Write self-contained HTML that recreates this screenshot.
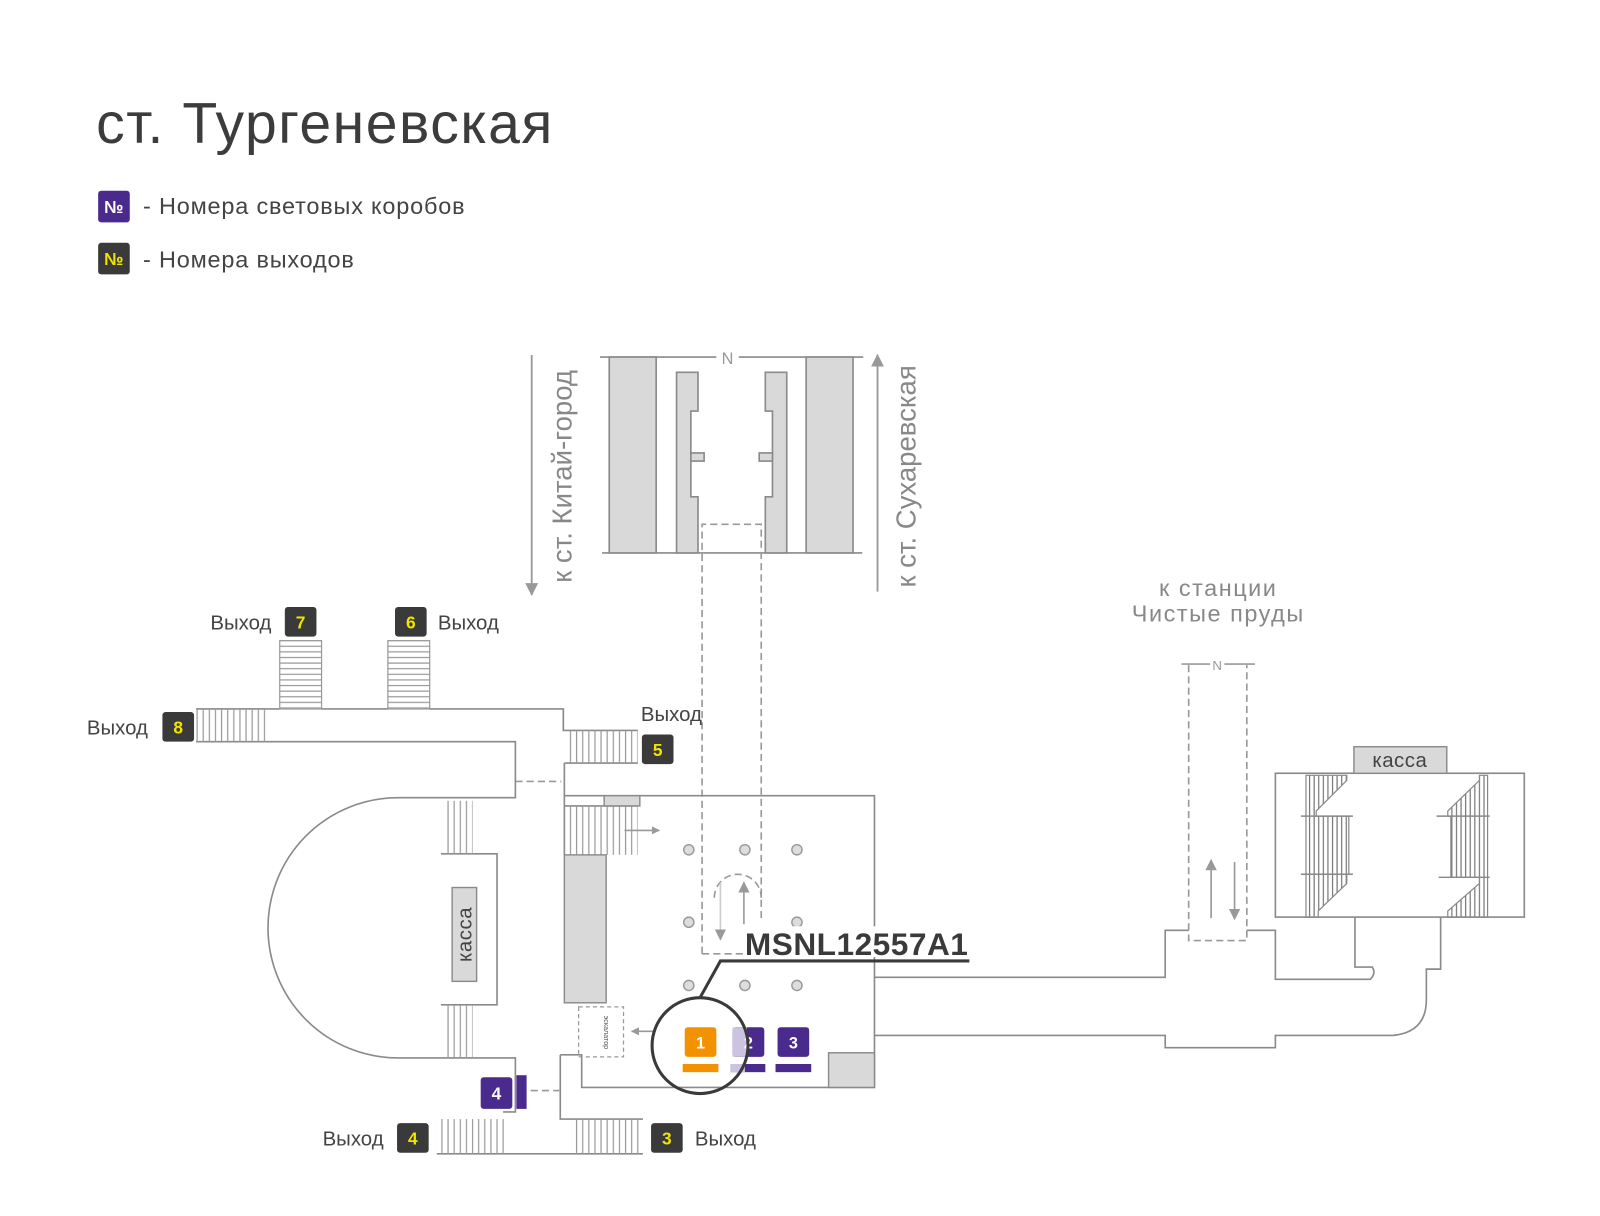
<!DOCTYPE html>
<html><head><meta charset="utf-8"><style>
html,body{margin:0;padding:0;background:#fff;}
svg{display:block;}
text{font-family:"Liberation Sans",sans-serif;}
</style></head><body>
<svg width="1600" height="1216" viewBox="0 0 1568 1192" xmlns="http://www.w3.org/2000/svg">
<defs>
<pattern id="vl" width="4.5" height="10" patternUnits="userSpaceOnUse"><line x1="1" y1="0" x2="1" y2="10" stroke="#777" stroke-width="1.2"/></pattern>
<pattern id="vl6" width="6" height="10" patternUnits="userSpaceOnUse"><line x1="1" y1="0" x2="1" y2="10" stroke="#999" stroke-width="1.2"/></pattern>
<pattern id="hl6" width="10" height="5.5" patternUnits="userSpaceOnUse"><line x1="0" y1="1" x2="10" y2="1" stroke="#999" stroke-width="1.2"/></pattern>
<marker id="ah" viewBox="0 0 10 10" refX="9" refY="5" markerWidth="7" markerHeight="7" orient="auto"><path d="M0,0 L10,5 L0,10 z" fill="#999"/></marker>
<marker id="ahs" viewBox="0 0 10 10" refX="9" refY="5" markerWidth="5" markerHeight="5" orient="auto"><path d="M0,0 L10,5 L0,10 z" fill="#999"/></marker>
</defs>

<text x="94" y="140" font-size="56" fill="#3c3c3c" letter-spacing="1.5">ст. Тургеневская</text>
<rect x="96" y="187" width="31" height="31" rx="3" fill="#4a2a8c"/>
<text x="111.5" y="209" font-size="17" font-weight="bold" fill="#fff" text-anchor="middle">№</text>
<text x="140" y="210" font-size="23" fill="#444" letter-spacing="0.8">- Номера световых коробов</text>
<rect x="96" y="238" width="31" height="31" rx="3" fill="#3a3a3a"/>
<text x="111.5" y="260" font-size="17" font-weight="bold" fill="#f2e400" text-anchor="middle">№</text>
<text x="140" y="262" font-size="23" fill="#444" letter-spacing="0.8">- Номера выходов</text>

<g fill="none" stroke="#8a8a8a" stroke-width="1.6">
<line x1="588" y1="350" x2="702" y2="350"/><line x1="724" y1="350" x2="846" y2="350"/>
<line x1="590" y1="542" x2="845" y2="542"/>
<rect x="597" y="350" width="46" height="192" fill="#d9d9d9"/>
<rect x="790" y="350" width="46" height="192" fill="#d9d9d9"/>
<path d="M663,365 H684 V403 H677 V487 H684 V542 H663 Z" fill="#d9d9d9"/>
<path d="M771,365 H750 V403 H757 V487 H750 V542 H771 Z" fill="#d9d9d9"/>
<rect x="677" y="444" width="13" height="8" fill="#d9d9d9"/>
<rect x="744" y="444" width="13" height="8" fill="#d9d9d9"/>
</g>
<text x="713" y="357" font-size="16" fill="#999" text-anchor="middle">N</text>
<g fill="none" stroke="#999" stroke-width="1.6" stroke-dasharray="7,4">
<path d="M688,935 V514 H746 V900"/>
<line x1="688" y1="935" x2="735" y2="935"/>
<path d="M700,880 A23,23 0 0 1 746,880"/>
<path d="M1165,652 V922 H1222 V652"/>
<line x1="505" y1="766" x2="550" y2="766"/>
<line x1="520" y1="1069" x2="548" y2="1069"/>
</g>
<g stroke="#999" stroke-width="1.6">
<line x1="1158" y1="651" x2="1186" y2="651"/><line x1="1200" y1="651" x2="1230" y2="651"/>
</g>
<text x="1193" y="657" font-size="13" fill="#999" text-anchor="middle">N</text>

<line x1="521" y1="348" x2="521" y2="583" stroke="#999" stroke-width="1.8" marker-end="url(#ah)"/>
<line x1="860" y1="580" x2="860" y2="348" stroke="#999" stroke-width="1.8" marker-end="url(#ah)"/>
<text transform="translate(560,467) rotate(-90)" font-size="27" fill="#888" text-anchor="middle">к ст. Китай-город</text>
<text transform="translate(897,467) rotate(-90)" font-size="27" fill="#888" text-anchor="middle">к ст. Сухаревская</text>
<text x="1194" y="584" font-size="23" fill="#888" text-anchor="middle" letter-spacing="1.5">к станции</text>
<text x="1194" y="609" font-size="23" fill="#888" text-anchor="middle" letter-spacing="1.5">Чистые пруды</text>
<line x1="1187" y1="900" x2="1187" y2="843" stroke="#999" stroke-width="1.6" marker-end="url(#ah)"/>
<line x1="1210" y1="845" x2="1210" y2="901" stroke="#999" stroke-width="1.6" marker-end="url(#ah)"/>
<line x1="706" y1="865" x2="706" y2="921" stroke="#ccc" stroke-width="1.6" marker-end="url(#ah)"/>
<line x1="729" y1="906" x2="729" y2="865" stroke="#999" stroke-width="1.6" marker-end="url(#ah)"/>
<line x1="612" y1="814" x2="646" y2="814" stroke="#999" stroke-width="1.6" marker-end="url(#ahs)"/>
<line x1="640" y1="1011" x2="619" y2="1011" stroke="#999" stroke-width="1.6" marker-end="url(#ahs)"/>

<g fill="none" stroke="#8a8a8a" stroke-width="1.6">
<path d="M192,695 H274 M315,695 H380 M421,695 H552 V716 H625"/>
<path d="M192,727 H505 V782 H390 A126,126 0 0 0 390,1037 H505 V1090 H493"/>
<path d="M553,748 H625 M553,748 V790 H625 M553,838 V790"/>
<path d="M432,837 H487 V985 H432"/>
<path d="M549,1034 H570 V1066 H857 V780 H553"/>
<path d="M549,1034 V1097 H630"/>
<path d="M428,1131 H630"/>
<path d="M857,958 H1142 V912 H1165 M1222,912 H1250 V960 H1343 Q1349,954 1345,948 H1328 V899"/>
<path d="M857,1015 H1142 V1027 H1250 V1015 H1365 Q1398,1012 1398,980 V950 H1412 V899"/>
<rect x="1250" y="758" width="244" height="141"/>
</g>
<rect x="192" y="695" width="70" height="32" fill="url(#vl6)"/>
<rect x="274" y="628" width="41" height="67" fill="url(#hl6)" stroke="#999" stroke-width="1.2"/>
<rect x="380" y="628" width="41" height="67" fill="url(#hl6)" stroke="#999" stroke-width="1.2"/>
<rect x="557" y="716" width="68" height="32" fill="url(#vl6)"/>
<rect x="557" y="790" width="68" height="48" fill="url(#vl6)"/>
<rect x="437" y="785" width="26" height="52" fill="url(#vl6)"/>
<rect x="437" y="985" width="26" height="52" fill="url(#vl6)"/>
<rect x="428" y="1097" width="66" height="34" fill="url(#vl6)"/>
<rect x="560" y="1097" width="70" height="34" fill="url(#vl6)"/>
<path d="M1280,760 H1320 V765 L1290,795 V800 H1322 V857 H1320 V866 L1292,893 V899 H1280 Z" fill="url(#vl)" stroke="#888" stroke-width="1.2"/>
<path d="M1458,760 H1450 V765 L1419,795 V800 H1422 V860 H1450 V866 L1419,893 V899 H1458 Z" fill="url(#vl)" stroke="#888" stroke-width="1.2"/>
<g stroke="#888" stroke-width="1.4">
<line x1="1275" y1="800" x2="1326" y2="800"/><line x1="1275" y1="857" x2="1326" y2="857"/>
<line x1="1408" y1="800" x2="1460" y2="800"/><line x1="1410" y1="860" x2="1460" y2="860"/>
</g>
<g fill="#d9d9d9" stroke="#8a8a8a" stroke-width="1.4">
<rect x="592" y="780" width="35" height="10"/>
<rect x="553" y="838" width="41" height="145"/>
<rect x="443" y="870" width="24" height="92"/>
<rect x="812" y="1032" width="45" height="34"/>
<rect x="1327" y="732" width="91" height="26"/>
</g>
<text transform="translate(462,916) rotate(-90)" font-size="20" fill="#444" text-anchor="middle" letter-spacing="0.5">касса</text>
<text x="1372" y="752" font-size="20" fill="#444" text-anchor="middle" letter-spacing="0.5">касса</text>
<rect x="567" y="987" width="44" height="49" fill="none" stroke="#999" stroke-width="1.2" stroke-dasharray="4,3"/>
<text transform="translate(592,1012) rotate(90)" font-size="7" fill="#555" text-anchor="middle">эскалатор</text>

<g fill="#ddd" stroke="#999" stroke-width="1.4">
<circle cx="675" cy="833" r="5"/><circle cx="730" cy="833" r="5"/><circle cx="781" cy="833" r="5"/>
<circle cx="675" cy="904" r="5"/><circle cx="781" cy="904" r="5"/>
<circle cx="675" cy="966" r="5"/><circle cx="730" cy="966" r="5"/><circle cx="781" cy="966" r="5"/>
</g>

<g font-size="20" fill="#444">
<text x="206" y="617">Выход</text>
<text x="429" y="617">Выход</text>
<text x="85" y="720">Выход</text>
<text x="628" y="707">Выход</text>
<text x="316" y="1123">Выход</text>
<text x="681" y="1123">Выход</text>
</g>
<g fill="#3a3a3a">
<rect x="279" y="595" width="31" height="29" rx="3"/>
<rect x="387" y="595" width="31" height="29" rx="3"/>
<rect x="159" y="698" width="31" height="29" rx="3"/>
<rect x="629" y="720" width="31" height="29" rx="3"/>
<rect x="389" y="1101" width="31" height="29" rx="3"/>
<rect x="638" y="1101" width="31" height="29" rx="3"/>
</g>
<g font-size="17" font-weight="bold" fill="#f2e400" text-anchor="middle">
<text x="294.5" y="616">7</text><text x="402.5" y="616">6</text><text x="174.5" y="719">8</text>
<text x="644.5" y="741">5</text><text x="404.5" y="1122">4</text><text x="653.5" y="1122">3</text>
</g>

<rect x="471" y="1056" width="31" height="31" rx="3" fill="#4a2a8c"/>
<rect x="506" y="1054" width="10" height="33" fill="#4a2a8c"/>
<text x="486.5" y="1078" font-size="17" font-weight="bold" fill="#fff" text-anchor="middle">4</text>
<rect x="671" y="1007" width="31" height="29" rx="3" fill="#f39200"/>
<rect x="669" y="1043" width="35" height="8" fill="#f39200"/>
<text x="686.5" y="1028" font-size="16" font-weight="bold" fill="#fff" text-anchor="middle">1</text>
<rect x="718" y="1007" width="31" height="29" rx="3" fill="#4a2a8c"/>
<rect x="718" y="1007" width="14" height="29" fill="#cbc3e0"/>
<rect x="716" y="1043" width="34" height="8" fill="#4a2a8c"/>
<rect x="716" y="1043" width="14" height="8" fill="#cbc3e0"/>
<text x="733.5" y="1028" font-size="16" font-weight="bold" fill="#fff" text-anchor="middle">2</text>
<rect x="762" y="1007" width="31" height="29" rx="3" fill="#4a2a8c"/>
<rect x="760" y="1043" width="35" height="8" fill="#4a2a8c"/>
<text x="777.5" y="1028" font-size="16" font-weight="bold" fill="#fff" text-anchor="middle">3</text>

<circle cx="686" cy="1025" r="47" fill="none" stroke="#3a3a3a" stroke-width="3"/>
<path d="M950,942 H706 L686,978" fill="none" stroke="#3a3a3a" stroke-width="3"/>
<rect x="730" y="908" width="215" height="30" fill="#fff"/>
<text x="730" y="936" font-size="31" font-weight="bold" fill="#3a3a3a" letter-spacing="0.5">MSNL12557A1</text>
</svg>
</body></html>
